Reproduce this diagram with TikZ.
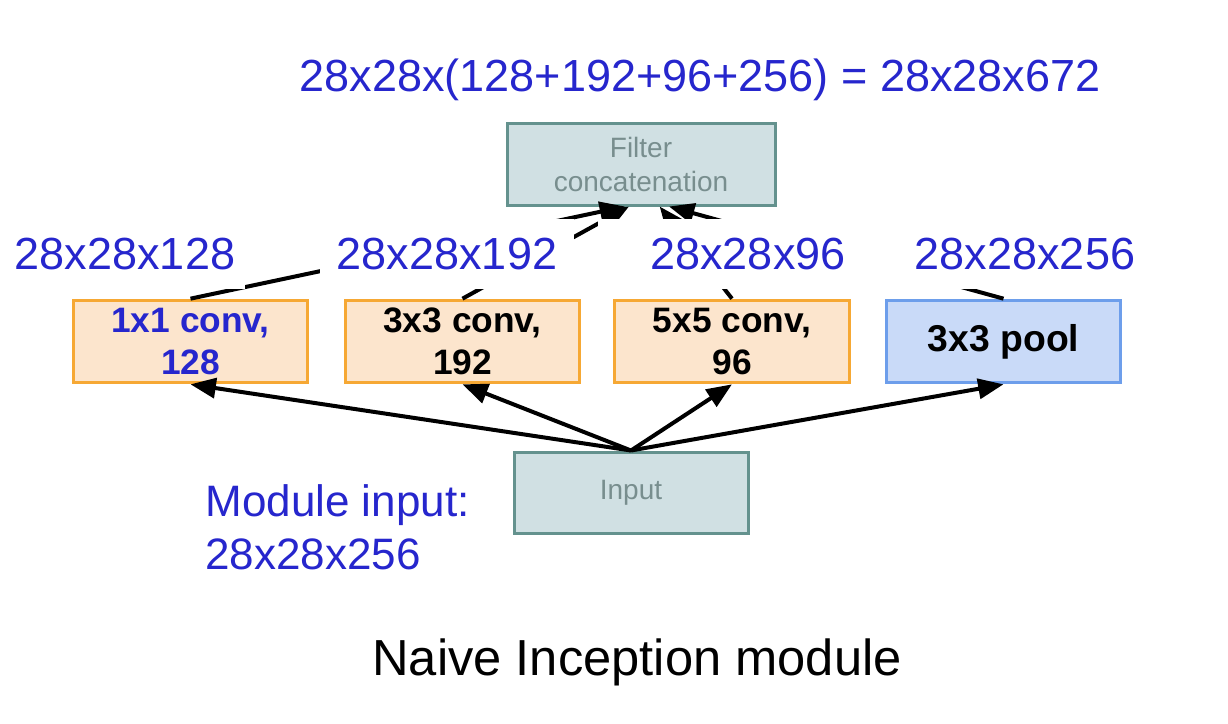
\documentclass[tikz,border=0pt]{standalone}
\usepackage{fontspec}
\setmainfont{Liberation Sans}
\usetikzlibrary{arrows.meta}

\tikzset{every picture/.style={line width=0.75pt}}

\begin{document}
\begin{tikzpicture}[x=0.75pt,y=0.75pt,yscale=-1,xscale=1,
  greybox/.style={draw={rgb, 255:red, 100; green, 146; blue, 142 }, fill={rgb, 255:red, 208; green, 224; blue, 227 }, line width=2.25pt, text={rgb, 255:red, 120; green, 142; blue, 142 }, align=center, font=\fontsize{21}{25.5}\selectfont},
  convbox/.style={draw={rgb, 255:red, 246; green, 168; blue, 52 }, fill={rgb, 255:red, 252; green, 229; blue, 205 }, line width=2.25pt, minimum width=176pt, minimum height=62pt, align=center, font=\bfseries\fontsize{26.5}{31}\selectfont},
  poolbox/.style={convbox, draw={rgb, 255:red, 109; green, 158; blue, 235 }, fill={rgb, 255:red, 201; green, 218; blue, 248 }, font=\bfseries\fontsize{28}{31}\selectfont},
  dimlabel/.style={fill=white, inner sep=0pt, minimum height=52.5pt, text={rgb, 255:red, 38; green, 38; blue, 205 }, font=\fontsize{33.75}{40}\selectfont},
  arr/.style={line width=3pt, -{Triangle[length=19pt,width=15pt]}}]
\useasboundingbox (0,0) rectangle (1228,724);

%Shape: Rectangle [id:concat] 
\node (concat) at (641,164) [greybox, minimum width=201pt, minimum height=61.5pt] {Filter\\concatenation};
%Shape: Rectangle [id:branches] 
\node (conv1) at (190.5,341.5) [convbox, text={rgb, 255:red, 38; green, 38; blue, 205 }] {1x1 conv,\\128};
\node (conv3) at (462.5,341.5) [convbox] {3x3 conv,\\192};
\node (conv5) at (732,341.5) [convbox] {5x5 conv,\\96};
\node (pool) at (1003.5,341.5) [poolbox] {3x3 pool};
%Shape: Rectangle [id:input] 
\node (input) at (631,492.5) [greybox, minimum width=175.5pt, minimum height=60.75pt] {Input};

%Straight Lines [id:fanout] 
\draw [arr] (input.north) -- (conv1.south);
\draw [arr] (input.north) -- (conv3.south);
\draw [arr] (input.north) -- (conv5.south);
\draw [arr] (input.north) -- (pool.south);
%Straight Lines [id:fanin] 
\draw [arr] (conv1.north) -- ([xshift=-12pt]concat.south);
\draw [arr] (conv3.north) -- ([xshift=-9pt]concat.south);
\draw [arr] (conv5.north) -- ([xshift=14pt]concat.south);
\draw [arr] (pool.north) -- ([xshift=21pt]concat.south);

% Text Node
\node (d128) at (125,254) [dimlabel, minimum width=180pt] {28x28x128};
% Text Node
\node (d192) at (447,254) [dimlabel, minimum width=191pt] {28x28x192};
% Text Node
\node (d96) at (748,254) [dimlabel, minimum width=225pt] {28x28x96};
% Text Node
\node (d256) at (1025,254) [dimlabel, minimum width=197pt] {28x28x256};
% Text Node
\node (total) at (700,80) [dimlabel, minimum height=0pt] {28x28x(128+192+96+256) = 28x28x672};
% Text Node
\node (modin) at (205,527) [anchor=west, align=left, dimlabel, minimum height=0pt, font=\fontsize{33}{40}\selectfont] {Module input:\\28x28x256};
% Text Node
\node (title) at (637,662) [font=\fontsize{38}{44}\selectfont] {Naive Inception module};
\end{tikzpicture}
\end{document}
